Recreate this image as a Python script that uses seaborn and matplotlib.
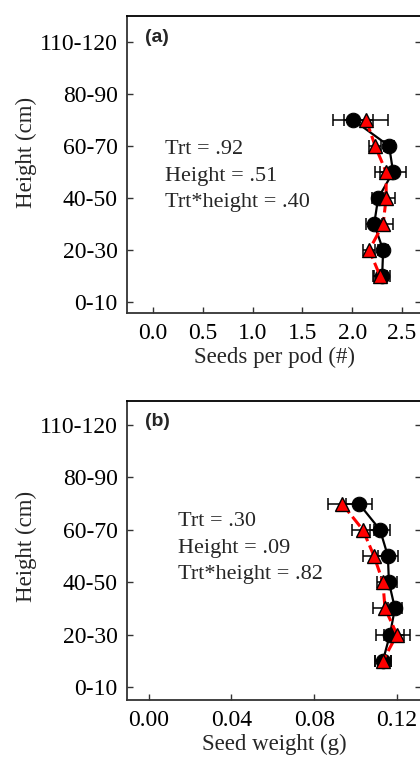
import matplotlib
matplotlib.use("Agg")
import matplotlib.pyplot as plt
import seaborn as sns
import numpy as np

# ---- data ----
height_mid = [75, 65, 55, 45, 35, 25, 15]
tick_pos = [5, 25, 45, 65, 85, 105]
tick_labels = ["0-10", "20-30", "40-50", "60-70", "80-90", "110-120"]

seeds_ctrl = [2.01, 2.37, 2.41, 2.26, 2.22, 2.31, 2.30]
seeds_ctrl_err = [0.20, 0.05, 0.13, 0.06, 0.08, 0.05, 0.08]
seeds_trt = [2.14, 2.23, 2.34, 2.34, 2.31, 2.17, 2.28]
seeds_trt_err = [0.22, 0.06, 0.11, 0.09, 0.10, 0.06, 0.07]

wt_ctrl = [0.1016, 0.1118, 0.1156, 0.1161, 0.1190, 0.1166, 0.1132]
wt_ctrl_err = [0.0063, 0.0048, 0.0048, 0.0040, 0.0035, 0.0068, 0.0040]
wt_trt = [0.0934, 0.1035, 0.1089, 0.1132, 0.1142, 0.1200, 0.1132]
wt_trt_err = [0.0068, 0.0053, 0.0053, 0.0030, 0.0058, 0.0063, 0.0040]

stats_a = ["Trt = .92", "Height = .51", "Trt*height = .40"]
stats_b = ["Trt = .30", "Height = .09", "Trt*height = .82"]

sns.set_style("ticks")
plt.rcParams["font.family"] = ["Liberation Serif", "DejaVu Serif"]

W, H = 420, 757
fig = plt.figure(figsize=(W / 100, H / 100), dpi=100)


def px_axes(left, top, right, bottom):
    return fig.add_axes([left / W, 1 - bottom / H, (right - left) / W, (bottom - top) / H])


def draw(ax, ctrl, ctrl_err, trt, trt_err, xlim, ylim, xticks, xticklabels, xlabel,
         stats, stat_xy, letter, letter_top, ylab_y):
    ax.errorbar(ctrl, height_mid, xerr=ctrl_err, fmt="none", ecolor="black",
                elinewidth=1.1, capsize=4, capthick=1.1, zorder=2)
    ax.errorbar(trt, height_mid, xerr=trt_err, fmt="none", ecolor="black",
                elinewidth=1.1, capsize=4, capthick=1.1, zorder=2)
    sns.lineplot(x=ctrl, y=height_mid, orient="y", sort=False, estimator=None, ax=ax,
                 color="black", lw=1.6, marker="o", markersize=10.5,
                 markeredgecolor="black", zorder=3)
    sns.lineplot(x=trt, y=height_mid, orient="y", sort=False, estimator=None, ax=ax,
                 color="#ff0000", lw=2.2, linestyle=(0, (4, 1.5)), marker="^", markersize=10.5,
                 markerfacecolor="#ff0000", markeredgecolor="black", markeredgewidth=1.0,
                 zorder=4)
    ax.set_xlim(*xlim)
    ax.set_ylim(*ylim)
    ax.set_xticks(xticks)
    ax.set_xticklabels(xticklabels)
    ax.set_yticks(tick_pos)
    ax.set_yticklabels(tick_labels)
    ax.tick_params(axis="both", direction="in", length=4, width=1, labelsize=17,
                   colors="#333333", labelcolor="black", pad=7)
    ax.tick_params(axis="y", right=True, labelright=False)
    ax.set_xlabel(xlabel, fontsize=16.5, labelpad=2)
    ax.set_ylabel("Height (cm)", fontsize=16.5)
    ax.yaxis.set_label_coords(-0.31, ylab_y)
    for s in ax.spines.values():
        s.set_visible(True)
        s.set_linewidth(1.3)
        s.set_color("#333333")
    ax.spines["top"].set_color("black")
    for i, t in enumerate(stats):
        ax.text(stat_xy[0], H - stat_xy[1] - i * 26, t, transform=None, fontsize=16,
                va="center", ha="left")
    ax.text(145, H - letter_top, letter, transform=None, fontsize=14, fontweight="bold",
            family=["Liberation Sans", "DejaVu Sans"], va="center", ha="left")


ax1 = px_axes(127.5, 16, 421, 313)
ax2 = px_axes(127.5, 401, 421, 700)

draw(ax1, seeds_ctrl, seeds_ctrl_err, seeds_trt, seeds_trt_err,
     (-0.256, 2.69), (0.8, 115), [0.0, 0.5, 1.0, 1.5, 2.0, 2.5],
     ["0.0", "0.5", "1.0", "1.5", "2.0", "2.5"], "Seeds per pod (#)",
     stats_a, (165, 150), "(a)", 37, 0.54)
draw(ax2, wt_ctrl, wt_ctrl_err, wt_trt, wt_trt_err,
     (-0.0102, 0.1316), (0.0, 114.2), [0.0, 0.04, 0.08, 0.12],
     ["0.00", "0.04", "0.08", "0.12"], "Seed weight (g)",
     stats_b, (178, 522), "(b)", 422, 0.515)

fig.savefig("out.png", dpi=100)
